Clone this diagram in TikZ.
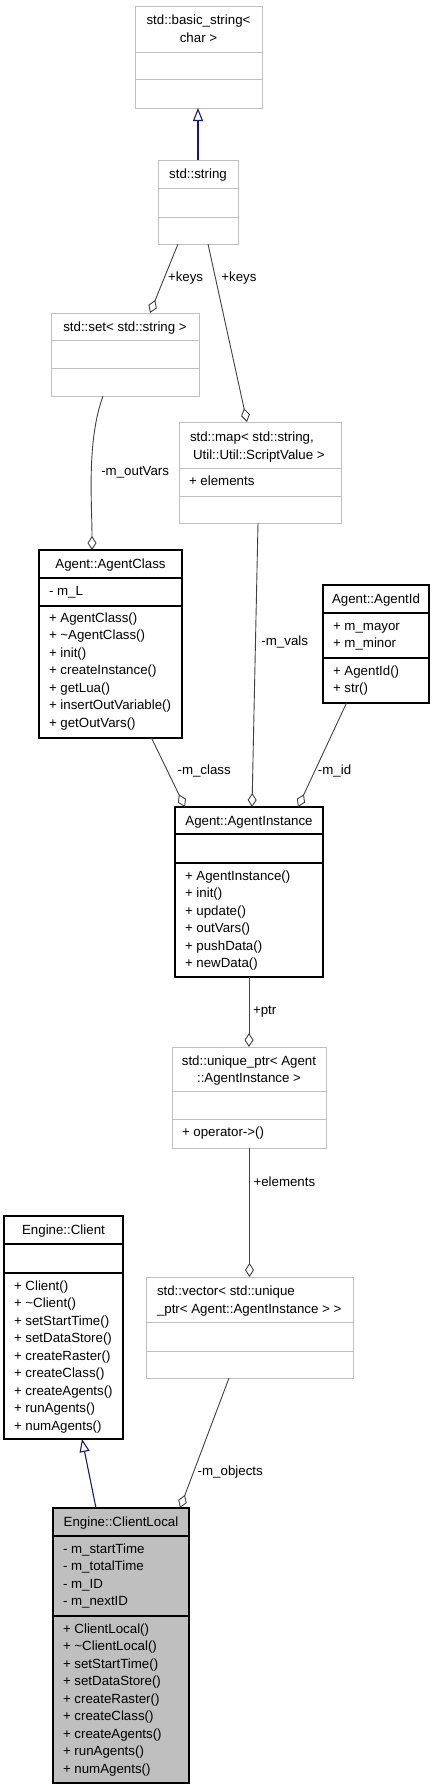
\documentclass[tikz,border=0pt]{standalone}
\usepackage{fontspec}
\setmainfont{Liberation Sans}
\usetikzlibrary{arrows.meta}

\definecolor{edgegray}{HTML}{404040}
\definecolor{boxgray}{HTML}{BFBFBF}
\definecolor{inhblue}{HTML}{191970}

\tikzset{
  every node/.style = {font = \fontsize{13.3}{17.5}\selectfont, inner sep = 0pt, outer sep = 0pt},
  extbox/.style = {draw = boxgray, line width = 1pt},
  ownbox/.style = {draw = black, line width = 1.3pt},
  curbox/.style = {draw = black, line width = 1.3pt, fill = boxgray},
  title/.style = {anchor = base, align = center},
  ltitle/.style = {anchor = base west, align = left},
  member/.style = {anchor = base west, align = left},
  role/.style = {anchor = west},
  aggr/.style = {draw = edgegray, line width = 0.9pt, arrows = {Diamond[open, length = 14pt, width = 9pt]-}},
  inherit/.style = {draw = inhblue, line width = 1.1pt, arrows = {-Triangle[open, length = 13pt, width = 10pt]}}
}

% box with three compartments: name, style, x1, x2, top, sep1, sep2, bottom
\newcommand{\classbox}[8]{%
  \node[#2, minimum width = {#4-#3}, minimum height = {#8-#5}, anchor = north west] (#1) at (#3,#5) {};
  \draw[#2, fill = none] (#3,#6) -- (#4,#6) (#3,#7) -- (#4,#7);
}

\begin{document}
\begin{tikzpicture}[x = 1pt, y = -1pt]
\useasboundingbox (0,0) rectangle (439,1789);

% classes (text nodes sit on the baseline of their last line)
\classbox{bstr}{extbox}{135}{262}{6}{52}{79}{108}
\node[title] (bstr-t) at (198.5,42) {std::basic\_string<\\char >};

\classbox{strg}{extbox}{158}{238}{160}{188}{217}{244}
\node[title] (strg-t) at (198,178.5) {std::string};

\classbox{set}{extbox}{51}{199}{313}{340}{368}{396}
\node[title] (set-t) at (125,331) {std::set< std::string >};

\classbox{map}{extbox}{179}{341}{422}{468}{496}{523}
\node[ltitle] (map-t) at (190,459) {std::map< std::string,\\\hspace{3pt}Util::Util::ScriptValue >};
\node[member] (map-a) at (189,485) {+ elements};

\classbox{acls}{ownbox}{39}{182}{550}{578}{606}{738}
\node[title] (acls-t) at (110.5,568.5) {Agent::AgentClass};
\node[member] (acls-a) at (49,595) {- m\_L};
\node[member] (acls-m) at (49,727) {+ AgentClass()\\+ \textasciitilde AgentClass()\\+ init()\\+ createInstance()\\+ getLua()\\+ insertOutVariable()\\+ getOutVars()};

\classbox{aid}{ownbox}{323}{429}{585}{613}{658}{703}
\node[title] (aid-t) at (376,603.5) {Agent::AgentId};
\node[member] (aid-a) at (333,647.5) {+ m\_mayor\\+ m\_minor};
\node[member] (aid-m) at (333,692.5) {+ AgentId()\\+ str()};

\classbox{inst}{ownbox}{175}{323}{807}{834}{863}{977}
\node[title] (inst-t) at (249,825) {Agent::AgentInstance};
\node[member] (inst-m) at (185,967.5) {+ AgentInstance()\\+ init()\\+ update()\\+ outVars()\\+ pushData()\\+ newData()};

\classbox{uptr}{extbox}{172}{326}{1047}{1091}{1119}{1148}
\node[title] (uptr-t) at (249,1082.5) {std::unique\_ptr< Agent\\::AgentInstance >};
\node[member] (uptr-m) at (182,1136) {+ operator-{}>()};

\classbox{vec}{extbox}{146}{353}{1277}{1322}{1351}{1378}
\node[ltitle] (vec-t) at (157,1313) {std::vector< std::unique\\\_ptr< Agent::AgentInstance > >};

\classbox{clnt}{ownbox}{4}{123}{1216}{1244}{1273}{1439}
\node[title] (clnt-t) at (63.5,1234.5) {Engine::Client};
\node[member] (clnt-m) at (14,1430) {+ Client()\\+ \textasciitilde Client()\\+ setStartTime()\\+ setDataStore()\\+ createRaster()\\+ createClass()\\+ createAgents()\\+ runAgents()\\+ numAgents()};

\classbox{cloc}{curbox}{53}{189}{1508}{1536}{1616}{1783}
\node[title] (cloc-t) at (121,1526.5) {Engine::ClientLocal};
\node[member] (cloc-a) at (63,1605.5) {- m\_startTime\\- m\_totalTime\\- m\_ID\\- m\_nextID};
\node[member] (cloc-m) at (63,1773) {+ ClientLocal()\\+ \textasciitilde ClientLocal()\\+ setStartTime()\\+ setDataStore()\\+ createRaster()\\+ createClass()\\+ createAgents()\\+ runAgents()\\+ numAgents()};

% inheritance
\draw[inherit] (strg.north) -- (strg.north |- bstr.south);
\draw[inherit] ([xshift = -25pt]cloc.north) -- ([xshift = 18.5pt]clnt.south);

% members
\draw[aggr] ([xshift = 25pt]set.north) -- node[role, pos = 0.5, xshift = 4pt] {+keys} ([xshift = -20pt]strg.south);
\draw[aggr] ([xshift = -13pt]map.north) -- node[role, pos = 0.81, xshift = 6pt] {+keys} ([xshift = 10pt]strg.south);
\draw[aggr] ([xshift = -18.5pt]acls.north) to[out = 90, in = -110, looseness = 0.8] node[role, pos = 0.5, xshift = 10pt] {-m\_outVars} ([xshift = -22pt]set.south);
\draw[aggr] ([xshift = 3pt]inst.north) -- node[role, pos = 0.58, xshift = 6pt] {-m\_vals} ([xshift = -2pt]map.south);
\draw[aggr] ([xshift = -64pt]inst.north) -- node[role, pos = 0.52, xshift = 10pt] {-m\_class} ([xshift = 41pt]acls.south);
\draw[aggr] ([xshift = 49pt]inst.north) -- node[role, pos = 0.35, xshift = 3pt] {-m\_id} ([xshift = -29.5pt]aid.south);
\draw[aggr] (uptr.north) -- node[role, pos = 0.5, xshift = 4pt] {+ptr} (uptr.north |- inst.south);
\draw[aggr] (vec.north) -- node[role, pos = 0.74, xshift = 4pt] {+elements} (vec.north |- uptr.south);
\draw[aggr] ([xshift = 59pt]cloc.north) -- node[role, pos = 0.28, xshift = 4pt] {-m\_objects} ([xshift = -20.5pt]vec.south);
\end{tikzpicture}
\end{document}
